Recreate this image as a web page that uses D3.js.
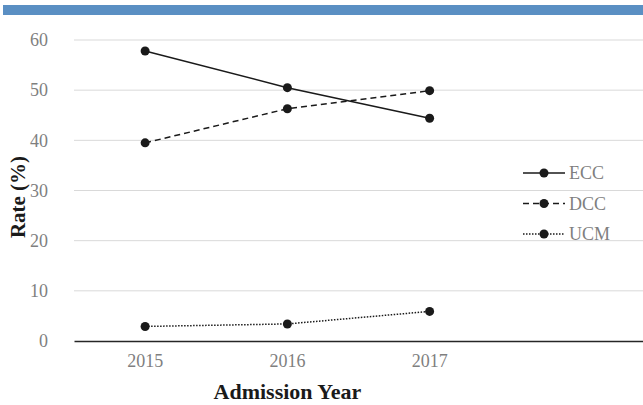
<!DOCTYPE html>
<html>
<head>
<meta charset="utf-8">
<script src="https://cdn.jsdelivr.net/npm/d3@7"></script>
<style>
  body { margin: 0; background: #fff; }
  svg { display: block; }
</style>
</head>
<body>
<svg width="643" height="405"></svg>
<script>
const svg = d3.select("svg");
const width = +svg.attr("width");
const height = +svg.attr("height");

// data
const years = ["2015", "2016", "2017", ""];
const ecc = [57.8, 50.5, 44.4];
const dcc = [39.5, 46.3, 49.9];
const ucm = [2.9, 3.4, 5.9];
const yTicks = [0, 10, 20, 30, 40, 50, 60];
const seriesNames = ["ECC", "DCC", "UCM"];

const series = [
    {name: seriesNames[0], values: ecc, dash: null},
    {name: seriesNames[1], values: dcc, dash: "6,4"},
    {name: seriesNames[2], values: ucm, dash: "1.5,1.5"}
];

const margin = {top: 40, left: 74, right: 0, bottom: 64};
const font = "'Liberation Serif', 'Times New Roman', serif";

// blue band on top
svg.append("rect")
    .attr("x", 3)
    .attr("y", 5)
    .attr("width", width - 3)
    .attr("height", 10)
    .attr("fill", "#5a8fc3");

const xScale = d3.scaleBand()
    .domain(years)
    .range([margin.left, width - margin.right]);

const yScale = d3.scaleLinear()
    .domain([0, 60])
    .range([height - margin.bottom, margin.top]);

// gridlines
svg.append("g")
    .selectAll("line")
    .data(yTicks.filter(d => d > 0))
    .enter().append("line")
        .attr("x1", margin.left)
        .attr("x2", width - margin.right)
        .attr("y1", d => yScale(d))
        .attr("y2", d => yScale(d))
        .attr("stroke", "#d9d9d9")
        .attr("stroke-width", 1);

// y axis labels
const yAxis = d3.axisLeft(yScale)
    .tickValues(yTicks)
    .tickSize(0)
    .tickPadding(26)
    .tickFormat(d3.format("d"));

const gy = svg.append("g")
    .attr("transform", `translate(${margin.left},0)`)
    .call(yAxis);
gy.select(".domain").remove();
gy.selectAll("text")
    .style("font-family", font)
    .style("font-size", "18px")
    .attr("fill", "#7f7f7f");

// x axis
const xAxis = d3.axisBottom(xScale)
    .tickSize(0)
    .tickPadding(13);

const gx = svg.append("g")
    .attr("transform", `translate(0,${yScale(0)})`)
    .call(xAxis);
gx.select(".domain")
    .attr("stroke", "#262626")
    .attr("stroke-width", 1.5);
gx.selectAll("text")
    .style("font-family", font)
    .style("font-size", "18px")
    .attr("fill", "#7f7f7f");

// lines
const xc = i => xScale(years[i]) + xScale.bandwidth() / 2;
const line = d3.line()
    .x((d, i) => xc(i))
    .y(d => yScale(d));

series.forEach(s => {
    svg.append("path")
        .datum(s.values)
        .attr("d", line)
        .attr("fill", "none")
        .attr("stroke", "#1a1a1a")
        .attr("stroke-width", 1.5)
        .attr("stroke-dasharray", s.dash);

    svg.selectAll(null)
        .data(s.values)
        .enter().append("circle")
            .attr("cx", (d, i) => xc(i))
            .attr("cy", d => yScale(d))
            .attr("r", 4.5)
            .attr("fill", "#1a1a1a");
});

// legend
const legend = svg.append("g")
    .selectAll("g")
    .data(series)
    .enter().append("g")
        .attr("transform", (d, i) => `translate(523,${173 + i * 30.5})`);

legend.append("line")
    .attr("x1", 0)
    .attr("x2", 42)
    .attr("stroke", "#1a1a1a")
    .attr("stroke-width", 1.5)
    .attr("stroke-dasharray", d => d.dash);

legend.append("circle")
    .attr("cx", 21)
    .attr("r", 4.5)
    .attr("fill", "#1a1a1a");

legend.append("text")
    .attr("x", 46)
    .attr("dy", "0.35em")
    .style("font-family", font)
    .style("font-size", "18px")
    .attr("fill", "#7f7f7f")
    .text(d => d.name);

// axis titles
svg.append("text")
    .attr("x", xc(1))
    .attr("y", 399)
    .attr("text-anchor", "middle")
    .style("font-family", font)
    .style("font-size", "22px")
    .style("font-weight", "bold")
    .attr("fill", "#1a1a1a")
    .text("Admission Year");

svg.append("text")
    .attr("transform", "translate(25,197) rotate(-90)")
    .attr("text-anchor", "middle")
    .style("font-family", font)
    .style("font-size", "21px")
    .style("font-weight", "bold")
    .attr("fill", "#1a1a1a")
    .text("Rate (%)");
</script>
</body>
</html>
